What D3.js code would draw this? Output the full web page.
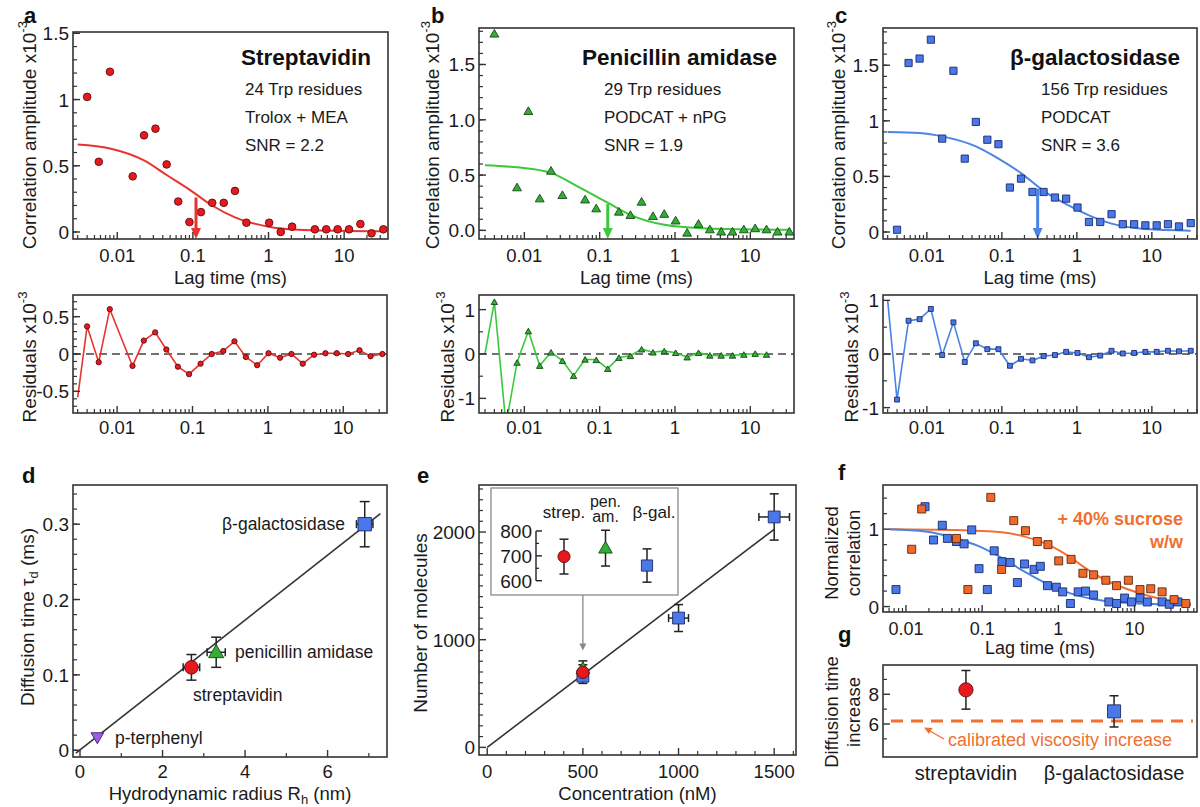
<!DOCTYPE html>
<html><head><meta charset="utf-8">
<script src="https://cdnjs.cloudflare.com/ajax/libs/d3/7.8.5/d3.min.js"></script>
<style>body{margin:0;background:#fff}svg{display:block;font-family:"Liberation Sans",Arial,Helvetica,sans-serif}</style>
</head><body><svg id="c" width="1200" height="807"></svg>
<script>
// ---------------- DATA ----------------
const lagTicks = [0.01, 0.1, 1, 10];
const lagTickLabels = ["0.01", "0.1", "1", "10"];

// panel a : streptavidin
const lagA  = [0.004,0.0057,0.008,0.016,0.0226,0.032,0.045,0.064,0.09,0.128,0.18,0.256,0.36,0.51,1.02,1.45,2.05,4.1,5.8,8.2,11.6,16.4,23,33];
const corrA = [1.02,0.53,1.21,0.42,0.73,0.78,0.51,0.23,0.075,0.15,0.22,0.22,0.31,0.07,0.07,0.0,0.04,0.02,0.02,0.02,0.02,0.06,-0.01,0.02];
const fitLagA = [0.003,0.008,0.0226,0.045,0.09,0.18,0.36,1.0,2.9,33];
const fitA    = [0.66,0.63,0.54,0.43,0.32,0.20,0.11,0.04,0.015,0.005];
const arrowA  = [0.11, 0.26];
const resLagA = [0.003,0.004,0.0057,0.008,0.016,0.0226,0.032,0.045,0.064,0.09,0.128,0.18,0.256,0.36,0.51,0.72,1.02,1.45,2.05,2.9,4.1,5.8,8.2,11.6,16.4,23,33];
const resA    = [-0.58,0.37,-0.11,0.60,-0.16,0.18,0.29,0.06,-0.17,-0.27,-0.13,0.0,0.04,0.17,-0.04,-0.15,0.01,-0.05,0.0,-0.13,-0.01,0.01,0.01,0.0,0.05,-0.03,0.0];

// panel b : penicillin amidase
const lagB  = [0.004,0.008,0.0113,0.016,0.0226,0.032,0.064,0.09,0.18,0.256,0.36,0.51,0.72,1.02,1.45,2.05,2.9,4.1,5.8,8.2,11.6,16.4,23,33];
const corrB = [1.78,0.39,1.08,0.29,0.54,0.32,0.28,0.20,0.17,0.14,0.26,0.13,0.15,0.09,-0.02,0.06,0.01,-0.01,-0.01,0.01,0.02,0.01,-0.01,-0.01];
const fitLagB = [0.003,0.008,0.0226,0.05,0.128,0.256,0.72,2.2,33];
const fitB    = [0.59,0.57,0.52,0.40,0.25,0.14,0.05,0.02,0.005];
const arrowB  = [0.128, 0.24];
const resLagB = [0.003,0.004,0.0057,0.008,0.0113,0.016,0.0226,0.032,0.045,0.064,0.09,0.128,0.18,0.256,0.36,0.51,0.72,1.02,1.45,2.05,2.9,4.1,5.8,8.2,11.6,16.4];
const resB    = [0.0,1.18,-1.6,-0.19,0.52,-0.26,0.04,-0.15,-0.49,-0.12,-0.13,-0.33,-0.08,-0.04,0.11,0.04,0.07,0.03,-0.07,0.03,-0.03,-0.03,-0.03,-0.01,0.01,-0.01];

// panel c : beta-galactosidase
const lagC  = [0.004,0.0057,0.008,0.0113,0.016,0.0226,0.032,0.045,0.064,0.09,0.128,0.18,0.256,0.36,0.51,0.72,1.02,1.45,2.05,2.9,4.1,5.8,8.2,11.6,16.4,23,33];
const corrC = [0.02,1.52,1.56,1.73,0.84,1.45,0.66,0.99,0.83,0.79,0.40,0.48,0.36,0.36,0.31,0.30,0.22,0.09,0.09,0.16,0.07,0.07,0.06,0.06,0.07,0.05,0.08];
const fitLagC = [0.003,0.008,0.016,0.045,0.09,0.18,0.36,0.72,1.45,2.9,8.2,33];
const fitC    = [0.90,0.89,0.86,0.77,0.66,0.53,0.37,0.25,0.15,0.075,0.027,0.012];
const arrowC  = [0.3, 0.39];
const resLagC = [0.003,0.004,0.0057,0.008,0.0113,0.016,0.0226,0.032,0.045,0.064,0.09,0.128,0.18,0.256,0.36,0.51,0.72,1.02,1.45,2.05,2.9,4.1,5.8,8.2,11.6,16.4,23,33];
const resC    = [1.0,-0.85,0.62,0.65,0.84,-0.02,0.59,-0.15,0.20,0.09,0.09,-0.22,-0.09,-0.12,-0.04,-0.02,0.04,0.02,-0.06,-0.03,0.06,0.01,0.02,0.04,0.04,0.06,0.05,0.06];

const titles = ["Streptavidin", "Penicillin amidase", "β-galactosidase"];
const infoA = ["24 Trp residues", "Trolox + MEA", "SNR = 2.2"];
const infoB = ["29 Trp residues", "PODCAT + nPG", "SNR = 1.9"];
const infoC = ["156 Trp residues", "PODCAT", "SNR = 3.6"];

// panel d
const dNames  = ["p-terphenyl", "streptavidin", "penicillin amidase", "β-galactosidase"];
const dRh     = [0.42, 2.7, 3.3, 6.9];
const dRhErr  = [0, 0.2, 0.22, 0.2];
const dTau    = [0.017, 0.11, 0.13, 0.30];
const dTauErr = [0, 0.017, 0.02, 0.03];
const fitDx = [-0.1, 7.28];
const fitDy = [-0.004, 0.314];
const dTicksX = [0, 2, 4, 6];
const dTicksY = [0, 0.1, 0.2, 0.3];

// panel e
const eConc    = [500, 500, 500, 1000, 1500];
const eConcErr = [0, 0, 0, 52, 80];
const eN       = [661, 731, 697, 1201, 2140];
const eNErr    = [67, 72, 70, 125, 215];
const eKind    = ["bgal", "pen", "strep", "bgal", "bgal"];
const fitEx = [0, 1500];
const fitEy = [0, 2025];
const eTicksX = [0, 500, 1000, 1500];
const eTicksY = [0, 1000, 2000];
const insetCats = ["strep.", "pen.", "β-gal."];
const insetVals = [697, 731, 661];
const insetErr  = [70, 72, 67];
const insetTicks = [600, 700, 800];

// panel f
const fBlueLag = [0.0074,0.0178,0.023,0.030,0.035,0.046,0.058,0.073,0.091,0.117,0.144,0.182,0.233,0.29,0.36,0.48,0.58,0.72,0.94,1.14,1.44,1.82,2.27,2.9,4.6,5.8,7.4,9.1,11.8,14.7,23,28.6,37];
const fBlue    = [0.22,1.29,0.86,1.05,0.88,0.84,0.81,0.99,0.49,0.22,0.72,0.58,0.57,0.31,0.55,0.48,0.52,0.27,0.25,0.19,0.04,0.19,0.20,0.15,0.06,0.04,0.11,0.06,0.11,0.06,0.06,0.03,0.06];
const fOrLag   = [0.0119,0.0161,0.046,0.065,0.13,0.18,0.26,0.37,0.53,0.73,1.01,1.47,2.1,2.9,4.2,5.8,8.3,11.8,16.3,23,33,47];
const fOr      = [0.74,1.26,0.88,0.22,1.41,0.48,1.11,0.98,0.84,0.80,0.59,0.61,0.43,0.41,0.34,0.27,0.34,0.22,0.23,0.19,0.09,0.04];
const fitFBlueLag = [0.0062,0.018,0.046,0.09,0.18,0.36,0.72,1.44,2.9,7.4,23,55];
const fitFBlue    = [1.0,0.97,0.88,0.78,0.63,0.45,0.29,0.17,0.095,0.05,0.03,0.02];
const fitFOrLag   = [0.0062,0.046,0.18,0.37,0.73,1.47,2.1,4.2,8.3,16.3,33,55];
const fitFOr      = [1.0,0.99,0.96,0.90,0.80,0.63,0.52,0.34,0.22,0.13,0.065,0.04];

// panel g
const gCats = ["streptavidin", "β-galactosidase"];
const gVals = [8.3, 6.85];
const gErr  = [1.3, 1.05];
const gCalibrated = 6.2;
const gTicks = [6, 8];

// ---------------- STYLE / LAYOUT ----------------
const AX = "#333";
const TXT = "#1a1a1a";
const COL = {
  red:{fill:"#e8191e", stroke:"#5e0c0c", line:"#e8342f"},
  green:{fill:"#33ad33", stroke:"#174717", line:"#3cc83c"},
  blue:{fill:"#4a78e8", stroke:"#1a2a6a", line:"#4a84e4"},
  orange:{fill:"#f0692a", stroke:"#5a2810", line:"#f07030"},
  purple:{fill:"#9b5de5", stroke:"#3a2070"}
};
const B = {
  a:{x0:73,x1:388,y0:32,y1:239}, ar:{x0:73,x1:387,y0:295,y1:413},
  b:{x0:479,x1:794,y0:28,y1:239}, br:{x0:479,x1:794,y0:295,y1:413},
  c:{x0:883,x1:1197,y0:28,y1:239}, cr:{x0:883,x1:1197,y0:295,y1:413},
  d:{x0:73,x1:387,y0:485,y1:757}, e:{x0:479,x1:796,y0:485,y1:755},
  f:{x0:883,x1:1197,y0:485,y1:612}, g:{x0:883,x1:1197,y0:665,y1:757}
};

const svg = d3.select("#c");
const defs = svg.append("defs");
let clipN = 0;
function clipFor(b){
  const id = "clip"+(clipN++);
  defs.append("clipPath").attr("id",id).append("rect")
    .attr("x",b.x0).attr("y",b.y0).attr("width",b.x1-b.x0).attr("height",b.y1-b.y0);
  return "url(#"+id+")";
}
function frame(g,b){
  g.append("rect").attr("x",b.x0).attr("y",b.y0).attr("width",b.x1-b.x0).attr("height",b.y1-b.y0)
    .attr("fill","none").attr("stroke",AX).attr("stroke-width",1.6);
}
function txt(g,x,y,s,o={}){
  return g.append("text").attr("x",x).attr("y",y).attr("font-size",o.size||19)
    .attr("text-anchor",o.anchor||"start").attr("font-weight",o.weight||"normal")
    .attr("fill",o.fill||TXT).text(s);
}
function logMinor(dom){
  const out=[];
  for(let e=-3;e<=2;e++) for(let m=2;m<=9;m++){const v=m*Math.pow(10,e); if(v>=dom[0]&&v<=dom[1]) out.push(v);}
  return out;
}
function rangeStep(lo,hi,step){
  const out=[]; const n=Math.round((hi-lo)/step);
  for(let i=0;i<=n;i++) out.push(+(lo+i*step).toFixed(6));
  return out;
}
function xTicks(g,x,b,maj,minr,labels,labelY,size){
  g.selectAll(null).data(maj).join("line").attr("x1",d=>x(d)).attr("x2",d=>x(d))
    .attr("y1",b.y1).attr("y2",b.y1-7).attr("stroke",AX).attr("stroke-width",1.4);
  g.selectAll(null).data(minr).join("line").attr("x1",d=>x(d)).attr("x2",d=>x(d))
    .attr("y1",b.y1).attr("y2",b.y1-4).attr("stroke",AX).attr("stroke-width",1.2);
  if(labels) g.selectAll(null).data(maj).join("text").attr("x",d=>x(d)).attr("y",labelY)
    .attr("text-anchor","middle").attr("font-size",size||19).attr("fill",TXT).text((d,i)=>labels[i]);
}
function yTicks(g,y,b,maj,minr,labels){
  g.selectAll(null).data(maj).join("line").attr("y1",d=>y(d)).attr("y2",d=>y(d))
    .attr("x1",b.x0).attr("x2",b.x0+7).attr("stroke",AX).attr("stroke-width",1.4);
  g.selectAll(null).data(minr).join("line").attr("y1",d=>y(d)).attr("y2",d=>y(d))
    .attr("x1",b.x0).attr("x2",b.x0+4).attr("stroke",AX).attr("stroke-width",1.2);
  if(labels) g.selectAll(null).data(maj).join("text").attr("x",b.x0-4).attr("y",d=>y(d)+7)
    .attr("text-anchor","end").attr("font-size",19).attr("fill",TXT).text((d,i)=>labels[i]);
}
function yTitle(g,cx,cy,main,sup,size){
  size=size||19;
  const t=g.append("text").attr("transform",`translate(${cx+size*0.35},${cy}) rotate(-90)`)
    .attr("text-anchor","middle").attr("font-size",size).attr("fill",TXT);
  t.append("tspan").text(main);
  if(sup) t.append("tspan").attr("font-size",size*0.7).attr("dy",-size*0.45).text(sup);
  return t;
}
const symType = {circle:d3.symbolCircle, square:d3.symbolSquare, triangle:d3.symbolTriangle};
function markers(g,data,xf,yf,type,size,col,rot){
  g.selectAll(null).data(data).join("path")
    .attr("d",d3.symbol().type(symType[type]).size(size))
    .attr("transform",d=>`translate(${xf(d)},${yf(d)})`+(rot?` rotate(${rot})`:"")+(type==="triangle"?" translate(0,1)":""))
    .attr("fill",col.fill).attr("stroke",col.stroke).attr("stroke-width",0.9);
}
function arrowDown(g,x,yTop,yBot,color,w,head){
  g.append("line").attr("x1",x).attr("x2",x).attr("y1",yTop).attr("y2",yBot-head*0.9)
    .attr("stroke",color).attr("stroke-width",w);
  g.append("path").attr("d",`M${x-head*0.45},${yBot-head} L${x+head*0.45},${yBot-head} L${x},${yBot} Z`).attr("fill",color);
}
function errY(g,x,y1,y2,cap){
  g.append("line").attr("x1",x).attr("x2",x).attr("y1",y1).attr("y2",y2).attr("stroke","#222").attr("stroke-width",1.5);
  [y1,y2].forEach(v=>g.append("line").attr("x1",x-cap).attr("x2",x+cap).attr("y1",v).attr("y2",v).attr("stroke","#222").attr("stroke-width",1.5));
}
function errX(g,y,x1,x2,cap){
  g.append("line").attr("x1",x1).attr("x2",x2).attr("y1",y).attr("y2",y).attr("stroke","#222").attr("stroke-width",1.5);
  [x1,x2].forEach(v=>g.append("line").attr("y1",y-cap).attr("y2",y+cap).attr("x1",v).attr("x2",v).attr("stroke","#222").attr("stroke-width",1.5));
}
function letter(s,x,y){ txt(svg,x,y,s,{size:22,weight:"bold",fill:"#111"}); }

// ---------------- FCS PANELS a, b, c ----------------
function fcsPanel(cfg){
  const b=cfg.box, br=cfg.rbox;
  const g=svg.append("g");
  const x=d3.scaleLog().domain(cfg.xdom).range([b.x0,b.x1]);
  const y=d3.scaleLinear().domain(cfg.ydom).range([b.y1,b.y0]);
  const xr=d3.scaleLog().domain(cfg.xdom).range([br.x0,br.x1]);
  const yr=d3.scaleLinear().domain(cfg.rdom).range([br.y1,br.y0]);
  const minr=logMinor(cfg.xdom);
  const gc=g.append("g").attr("clip-path",clipFor(b));
  const fitPts=cfg.fitLag.map((t,i)=>[t,cfg.fit[i]]);
  gc.append("path").attr("d",d3.line().x(d=>x(d[0])).y(d=>y(d[1])).curve(d3.curveMonotoneX)(fitPts))
    .attr("fill","none").attr("stroke",cfg.col.line).attr("stroke-width",2);
  const pts=cfg.lag.map((t,i)=>[t,cfg.corr[i]]);
  markers(gc,pts,d=>x(d[0]),d=>y(d[1]),cfg.type,cfg.msize,cfg.col);
  arrowDown(g,x(cfg.arrow[0]),y(cfg.arrow[1]),b.y1,cfg.col.line,3,11);
  frame(g,b);
  xTicks(g,x,b,lagTicks,minr,lagTickLabels,262,18.5);
  yTicks(g,y,b,cfg.yMaj,cfg.yMin,cfg.yLab);
  txt(g,(b.x0+b.x1)/2,284,"Lag time (ms)",{anchor:"middle",size:18.5});
  yTitle(g,cfg.titleX,135,"Correlation amplitude x10","-3");
  txt(g,b.x1-17,65,cfg.title,{size:22.5,weight:"bold",anchor:"end",fill:"#111"});
  cfg.info.forEach((s,i)=>txt(g,cfg.infoX,94.5+i*28.3,s,{size:17}));
  const gr=g.append("g").attr("clip-path",clipFor(br));
  gr.append("line").attr("x1",br.x0).attr("x2",br.x1).attr("y1",yr(0)).attr("y2",yr(0))
    .attr("stroke","#444").attr("stroke-width",1.5).attr("stroke-dasharray","8,5");
  const rp=cfg.resLag.map((t,i)=>[t,cfg.res[i]]);
  gr.append("path").attr("d",d3.line().x(d=>xr(d[0])).y(d=>yr(d[1]))(rp))
    .attr("fill","none").attr("stroke",cfg.col.line).attr("stroke-width",1.6);
  markers(gr,rp.slice(1),d=>xr(d[0]),d=>yr(d[1]),cfg.type,cfg.rsize,cfg.col);
  frame(g,br);
  xTicks(g,xr,br,lagTicks,minr,lagTickLabels,434,18.5);
  yTicks(g,yr,br,cfg.rMaj,cfg.rMin,cfg.rLab);
  yTitle(g,cfg.rTitleX,357,"Residuals x10","-3");
}

fcsPanel({box:B.a,rbox:B.ar,xdom:[0.0026,38],ydom:[-0.053,1.51],rdom:[-0.79,0.79],
  lag:lagA,corr:corrA,fitLag:fitLagA,fit:fitA,arrow:arrowA,resLag:resLagA,res:resA,
  col:COL.red,type:"circle",msize:46,rsize:22,
  yMaj:[0,0.5,1,1.5],yLab:["0","0.5","1","1.5"],yMin:rangeStep(0,1.5,0.1),
  rMaj:[-0.5,0,0.5],rLab:["-0.5","0","0.5"],rMin:rangeStep(-0.7,0.7,0.1),
  titleX:29,rTitleX:29,title:titles[0],info:infoA,infoX:245});
fcsPanel({box:B.b,rbox:B.br,xdom:[0.0025,38],ydom:[-0.078,1.83],rdom:[-1.33,1.33],
  lag:lagB,corr:corrB,fitLag:fitLagB,fit:fitB,arrow:arrowB,resLag:resLagB,res:resB,
  col:COL.green,type:"triangle",msize:34,rsize:18,
  yMaj:[0,0.5,1,1.5],yLab:["0.0","0.5","1.0","1.5"],yMin:rangeStep(0,1.8,0.1),
  rMaj:[-1,0,1],rLab:["-1","0","1"],rMin:[-0.5,0.5],
  titleX:432,rTitleX:447,title:titles[1],info:infoB,infoX:604});
fcsPanel({box:B.c,rbox:B.cr,xdom:[0.0026,40],ydom:[-0.063,1.835],rdom:[-1.1,1.1],
  lag:lagC,corr:corrC,fitLag:fitLagC,fit:fitC,arrow:arrowC,resLag:resLagC,res:resC,
  col:COL.blue,type:"square",msize:52,rsize:24,
  yMaj:[0,0.5,1,1.5],yLab:["0","0.5","1","1.5"],yMin:rangeStep(0,1.8,0.1),
  rMaj:[-1,0,1],rLab:["-1","0","1"],rMin:[-0.5,0.5],
  titleX:838,rTitleX:851,title:titles[2],info:infoC,infoX:1041});

letter("a",24,23); letter("b",431,23); letter("c",835,23);

// ---------------- PANEL d ----------------
(function(){
  const b=B.d, g=svg.append("g");
  const x=d3.scaleLinear().domain([-0.17,7.44]).range([b.x0,b.x1]);
  const y=d3.scaleLinear().domain([-0.009,0.352]).range([b.y1,b.y0]);
  g.append("line").attr("x1",x(fitDx[0])).attr("y1",y(fitDy[0])).attr("x2",x(fitDx[1])).attr("y2",y(fitDy[1]))
    .attr("stroke","#333").attr("stroke-width",1.6);
  const cols=[COL.purple,COL.red,COL.green,COL.blue];
  const types=["triangle","circle","triangle","square"];
  const sizes=[70,145,100,180];
  dRh.forEach((r,i)=>{
    if(dTauErr[i]>0) errY(g,x(r),y(dTau[i]-dTauErr[i]),y(dTau[i]+dTauErr[i]),5);
    if(dRhErr[i]>0) errX(g,y(dTau[i]),x(r-dRhErr[i]),x(r+dRhErr[i]),4);
    markers(g,[[r,dTau[i]]],d=>x(d[0]),d=>y(d[1]),types[i],sizes[i],cols[i],i===0?180:0);
  });
  frame(g,b);
  xTicks(g,x,b,dTicksX,[1,3,5,7],dTicksX.map(String),778,18.5);
  yTicks(g,y,b,dTicksY,rangeStep(0,0.34,0.02),["0","0.1","0.2","0.3"]);
  txt(g,(b.x0+b.x1)/2,800,"",{anchor:"middle",size:18.5}).call(t=>{
    t.append("tspan").text("Hydrodynamic radius R");
    t.append("tspan").attr("font-size",13).attr("dy",4).text("h");
    t.append("tspan").attr("dy",-4).text(" (nm)");
  });
  const yt=yTitle(g,27,617,"Diffusion time τ");
  yt.append("tspan").attr("font-size",13).attr("dy",4).text("d");
  yt.append("tspan").attr("dy",-4).text(" (ms)");
  const lbl=[[115,744],[193,701],[235,658],[222,530]];
  dNames.forEach((n,i)=>txt(g,lbl[i][0],lbl[i][1],n,{size:17.5}));
})();
letter("d",22,483);

// ---------------- PANEL e ----------------
(function(){
  const b=B.e, g=svg.append("g");
  const x=d3.scaleLinear().domain([-43,1614]).range([b.x0,b.x1]);
  const y=d3.scaleLinear().domain([-71,2437]).range([b.y1,b.y0]);
  g.append("line").attr("x1",x(fitEx[0])).attr("y1",y(fitEy[0])).attr("x2",x(fitEx[1])).attr("y2",y(fitEy[1]))
    .attr("stroke","#333").attr("stroke-width",1.6);
  const cmap={strep:[COL.red,"circle",120],pen:[COL.green,"triangle",80],bgal:[COL.blue,"square",140]};
  eConc.forEach((c,i)=>{
    errY(g,x(c),y(eN[i]-eNErr[i]),y(eN[i]+eNErr[i]),4.5);
    if(eConcErr[i]>0) errX(g,y(eN[i]),x(c-eConcErr[i]),x(c+eConcErr[i]),4);
  });
  eConc.forEach((c,i)=>{
    const m=cmap[eKind[i]];
    markers(g,[[c,eN[i]]],d=>x(d[0]),d=>y(d[1]),m[1],m[2],m[0]);
  });
  frame(g,b);
  xTicks(g,x,b,eTicksX,rangeStep(100,1600,100).filter(v=>v%500!==0),eTicksX.map(String),778,18.5);
  yTicks(g,y,b,eTicksY,rangeStep(0,2400,100).filter(v=>v%1000!==0),eTicksY.map(String));
  txt(g,(b.x0+b.x1)/2,800,"Concentration (nM)",{anchor:"middle",size:18.5});
  yTitle(g,420,623,"Number of molecules");
  // inset
  const ib={x0:491,x1:678,y0:488,y1:595};
  g.append("rect").attr("x",ib.x0).attr("y",ib.y0).attr("width",ib.x1-ib.x0).attr("height",ib.y1-ib.y0)
    .attr("fill","#fff").attr("stroke","#8a8a8a").attr("stroke-width",1.3);
  const iy=d3.scaleLinear().domain([600,800]).range([580.7,531]);
  const ix=d3.scalePoint().domain(insetCats).range([564,647]);
  const axX=536;
  g.append("line").attr("x1",axX).attr("x2",axX).attr("y1",iy(800)).attr("y2",iy(600)).attr("stroke","#222").attr("stroke-width",1.4);
  g.selectAll(null).data(insetTicks).join("line").attr("x1",axX).attr("x2",axX+6).attr("y1",d=>iy(d)).attr("y2",d=>iy(d)).attr("stroke","#222").attr("stroke-width",1.4);
  g.selectAll(null).data([650,750]).join("line").attr("x1",axX).attr("x2",axX+3).attr("y1",d=>iy(d)).attr("y2",d=>iy(d)).attr("stroke","#222").attr("stroke-width",1.2);
  g.selectAll(null).data(insetTicks).join("text").attr("x",axX-4).attr("y",d=>iy(d)+7).attr("text-anchor","end")
    .attr("font-size",19).attr("fill",TXT).text(d=>d);
  const icol=[COL.red,COL.green,COL.blue], itype=["circle","triangle","square"], isz=[115,80,125];
  insetCats.forEach((c,i)=>{
    errY(g,ix(c),iy(insetVals[i]-insetErr[i]),iy(insetVals[i]+insetErr[i]),4.5);
    markers(g,[[c,insetVals[i]]],d=>ix(d[0]),d=>iy(d[1]),itype[i],isz[i],icol[i]);
  });
  txt(g,ix(insetCats[0]),518,"strep.",{size:17,anchor:"middle"});
  txt(g,ix(insetCats[1]),507,"pen.",{size:16,anchor:"middle"});
  txt(g,ix(insetCats[1]),522,"am.",{size:16,anchor:"middle"});
  txt(g,ix(insetCats[2])+7,518,"β-gal.",{size:17,anchor:"middle"});
  const ax=x(500);
  g.append("line").attr("x1",ax).attr("x2",ax).attr("y1",ib.y1).attr("y2",y(900)-6).attr("stroke","#888").attr("stroke-width",1.3);
  g.append("path").attr("d",`M${ax-3.5},${y(900)-7} L${ax+3.5},${y(900)-7} L${ax},${y(900)} Z`).attr("fill","#888");
})();
letter("e",417,483);

// ---------------- PANEL f ----------------
(function(){
  const b=B.f, g=svg.append("g");
  const dom=[0.005,66];
  const x=d3.scaleLog().domain(dom).range([b.x0,b.x1]);
  const y=d3.scaleLinear().domain([-0.07,1.57]).range([b.y1,b.y0]);
  const gc=g.append("g").attr("clip-path",clipFor(b));
  const line=d3.line().x(d=>x(d[0])).y(d=>y(d[1])).curve(d3.curveMonotoneX);
  gc.append("path").attr("d",line(fitFOrLag.map((t,i)=>[t,fitFOr[i]]))).attr("fill","none").attr("stroke",COL.orange.line).attr("stroke-width",2);
  gc.append("path").attr("d",line(fitFBlueLag.map((t,i)=>[t,fitFBlue[i]]))).attr("fill","none").attr("stroke",COL.blue.line).attr("stroke-width",2);
  markers(gc,fBlueLag.map((t,i)=>[t,fBlue[i]]),d=>x(d[0]),d=>y(d[1]),"square",64,COL.blue);
  markers(gc,fOrLag.map((t,i)=>[t,fOr[i]]),d=>x(d[0]),d=>y(d[1]),"square",64,COL.orange);
  frame(g,b);
  xTicks(g,x,b,lagTicks,logMinor(dom),lagTickLabels,635,18);
  yTicks(g,y,b,[0,1],[0.2,0.4,0.6,0.8,1.2,1.4],["0","1"]);
  txt(g,(b.x0+b.x1)/2,654,"Lag time (ms)",{anchor:"middle",size:18});
  yTitle(g,832,553,"Normalized",null,18.5);
  yTitle(g,854,553,"correlation",null,18.5);
  txt(g,1183,525,"+ 40% sucrose",{size:18,weight:"bold",anchor:"end",fill:COL.orange.line});
  txt(g,1183,548,"w/w",{size:18,weight:"bold",anchor:"end",fill:COL.orange.line});
})();
letter("f",838,480);

// ---------------- PANEL g ----------------
(function(){
  const b=B.g, g=svg.append("g");
  const x=d3.scalePoint().domain(gCats).range([b.x0,b.x1]).padding(0.56);
  const y=d3.scaleLinear().domain([3.78,9.97]).range([b.y1,b.y0]);
  g.append("line").attr("x1",b.x0+8).attr("x2",b.x1-4).attr("y1",y(gCalibrated)).attr("y2",y(gCalibrated))
    .attr("stroke",COL.orange.line).attr("stroke-width",3).attr("stroke-dasharray","12,8");
  const cols=[COL.red,COL.blue], types=["circle","square"], sz=[160,170];
  gCats.forEach((c,i)=>{
    errY(g,x(c),y(gVals[i]-gErr[i]),y(gVals[i]+gErr[i]),4.5);
    markers(g,[[c,gVals[i]]],d=>x(d[0]),d=>y(d[1]),types[i],sz[i],cols[i]);
  });
  frame(g,b);
  yTicks(g,y,b,gTicks,[5,7,9],gTicks.map(String));
  gCats.forEach(c=>txt(g,x(c),780,c,{anchor:"middle",size:20}));
  yTitle(g,832,712,"Diffusion time",null,18.5);
  yTitle(g,854,712,"increase",null,18.5);
  txt(g,948,746,"calibrated viscosity increase",{size:18,fill:COL.orange.line});
  g.append("line").attr("x1",944).attr("y1",739).attr("x2",929).attr("y2",730.5).attr("stroke",COL.orange.line).attr("stroke-width",1.4);
  g.append("path").attr("d","M924,727.5 L932.5,728 L929,734 Z").attr("fill",COL.orange.line);
})();
letter("g",838,642);
</script></body></html>
